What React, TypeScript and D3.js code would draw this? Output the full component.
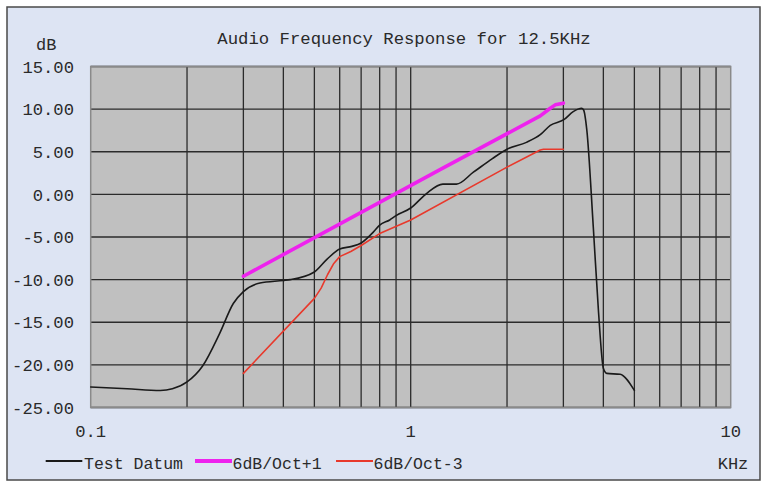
import React from "react";
import * as d3 from "d3";

const title = "Audio Frequency Response for 12.5KHz";
const yTicks = [15, 10, 5, 0, -5, -10, -15, -20, -25];
const xTickLabels = [0.1, 1, 10];
const gridFreqs = [0.2, 0.3, 0.4, 0.5, 0.6, 0.7, 0.8, 0.9, 1, 2, 3, 4, 5, 6, 7, 8, 9];

const testFreq = [0.1, 0.13, 0.165, 0.18, 0.2, 0.224, 0.253, 0.279, 0.3, 0.338, 0.4, 0.42, 0.5, 0.548, 0.6, 0.655, 0.7, 0.765, 0.8, 0.86, 0.9, 1.0, 1.12, 1.26, 1.39, 1.57, 1.8, 2.0, 2.3, 2.54, 2.73, 3.01, 3.22, 3.42, 3.47, 3.55, 3.72, 3.86, 4.0, 4.1, 4.51, 5.0];
const testDb = [-22.6, -22.8, -23.0, -22.8, -22.0, -20.1, -16.3, -12.8, -11.4, -10.4, -10.1, -10.0, -9.1, -7.6, -6.4, -6.1, -5.7, -4.4, -3.6, -3.0, -2.5, -1.6, 0.1, 1.2, 1.2, 2.6, 4.2, 5.3, 6.1, 7.0, 8.1, 8.76, 9.7, 10.1, 9.9, 7.6, -3.8, -13.6, -20.4, -21.0, -21.1, -23.0];

const plusFreq = [0.3, 1.235, 2.54, 2.73, 2.83, 3.0];
const plusDb = [-9.6, 2.9, 9.2, 10.1, 10.5, 10.7];

const minusFreq = [0.3, 0.5, 0.525, 0.55, 0.575, 0.6, 0.65, 0.7, 0.8, 1.0, 2.0, 2.54, 2.6, 3.0];
const minusDb = [-21, -12.2, -11.0, -9.4, -8.1, -7.3, -6.7, -6.0, -4.6, -3.0, 3.2, 5.2, 5.3, 5.3];

const seriesNames = ["Test Datum", "6dB/Oct+1", "6dB/Oct-3"];
const seriesColors = ["#1a1a1a", "#ee22ee", "#e8392c"];
const seriesWidths = [1.6, 3.6, 1.6];

const W = 767;
const H = 482;
const FONT = "'Liberation Mono', 'DejaVu Sans Mono', monospace";

export default function App() {
  const x = d3.scaleLog().domain([0.1, 10]).range([90.7, 730.7]);
  const y = d3.scaleLinear().domain([-25, 15]).range([407.5, 66.5]);

  const smooth = d3
    .line<[number, number]>()
    .x((d) => x(d[0]))
    .y((d) => y(d[1]))
    .curve(d3.curveMonotoneX);
  const straight = d3
    .line<[number, number]>()
    .x((d) => x(d[0]))
    .y((d) => y(d[1]))
    .curve(d3.curveLinear);

  const zip = (a: number[], b: number[]) => a.map((v, i) => [v, b[i]] as [number, number]);
  const series = [zip(testFreq, testDb), zip(plusFreq, plusDb), zip(minusFreq, minusDb)];
  const gens = [smooth, straight, straight];

  const [x0, x1] = x.range();
  const [yb, yt] = y.range();

  const legendItems = [
    { x1: 45.7, x2: 82.3, tx: 84 },
    { x1: 195, x2: 232, tx: 232.5 },
    { x1: 336, x2: 373, tx: 373.5 },
  ];

  return (
    <svg
      width={W}
      height={H}
      style={{ position: "absolute", left: 0, top: 0, background: "#ffffff" }}
      fontFamily={FONT}
    >
      <rect x={7} y={7} width={753} height={473} fill="#dde4f3" stroke="#4a4a4a" strokeWidth={1.5} />
      <text x={404} y={44} textAnchor="middle" fontSize={17.3} fill="#2a2a2a">
        {title}
      </text>
      <text x={36} y={50} fontSize={17} fill="#2a2a2a">
        dB
      </text>
      <rect x={x0} y={yt} width={x1 - x0} height={yb - yt} fill="#c0c0c0" />
      {yTicks.map((t) => (
        <line key={"h" + t} x1={x0} x2={x1} y1={y(t)} y2={y(t)} stroke="#2b2b2b" strokeWidth={1.3} />
      ))}
      {gridFreqs.map((f) => (
        <line key={"v" + f} x1={x(f)} x2={x(f)} y1={yt} y2={yb} stroke="#2b2b2b" strokeWidth={1.3} />
      ))}
      <rect x={x0} y={yt} width={x1 - x0} height={yb - yt} fill="none" stroke="#8a8a8a" strokeWidth={1.5} />
      {yTicks.map((t) => (
        <text
          key={"yl" + t}
          x={74}
          y={y(t)}
          dy="0.36em"
          textAnchor="end"
          fontSize={17.2}
          fill="#2a2a2a"
        >
          {t.toFixed(2)}
        </text>
      ))}
      {xTickLabels.map((t) => (
        <text key={"xl" + t} x={x(t)} y={437} textAnchor="middle" fontSize={17.2} fill="#2a2a2a">
          {String(t)}
        </text>
      ))}
      <text x={733} y={469} textAnchor="middle" fontSize={17} fill="#2a2a2a">
        KHz
      </text>
      {series.map((s, i) => (
        <path
          key={"s" + i}
          d={gens[i](s) || ""}
          fill="none"
          stroke={seriesColors[i]}
          strokeWidth={seriesWidths[i]}
          strokeLinejoin="round"
          strokeLinecap="round"
        />
      ))}
      {legendItems.map((l, i) => (
        <g key={"lg" + i}>
          <line x1={l.x1} x2={l.x2} y1={461} y2={461} stroke={seriesColors[i]} strokeWidth={seriesWidths[i] === 3.6 ? 4 : 2} />
          <text x={l.tx} y={469} fontSize={16.5} fill="#2a2a2a">
            {seriesNames[i]}
          </text>
        </g>
      ))}
    </svg>
  );
}
